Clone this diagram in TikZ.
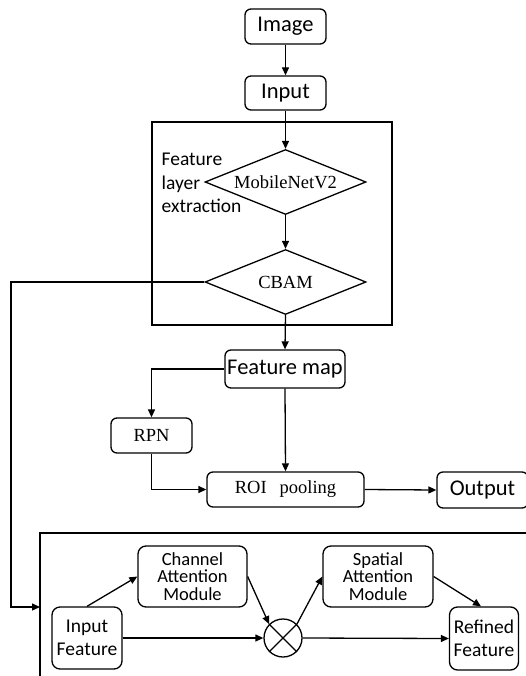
\documentclass[tikz,border=0pt]{standalone}
\usepackage{fontspec}
\setmainfont{Carlito}
\newfontfamily\tnrfont{Liberation Serif}
\usetikzlibrary{arrows.meta,shapes.geometric,calc}
\begin{document}
\begin{tikzpicture}[x=1pt,y=-1pt,
  line width=1.3pt,
  arr/.style={-{Triangle[length=8pt,width=7pt]}},
  rbox/.style={draw,rounded corners=6pt,inner sep=0pt,align=center},
  sansbig/.style={font=\fontsize{22.5}{24}\selectfont},
  sansmid/.style={font=\fontsize{19.5}{23.5}\selectfont},
  sanssm/.style={font=\fontsize{18.5}{17.5}\selectfont},
  serif/.style={font=\fontsize{18.5}{20}\selectfont\tnrfont},
  dia/.style={draw,diamond,aspect=2.5,inner sep=0pt,minimum width=161pt,minimum height=65pt}
]
\useasboundingbox (0,0) rectangle (526,676);
\clip (0,0) rectangle (526,676);
% top chain
\node[rbox,sansbig,minimum width=81pt,minimum height=35pt] (img) at (285.5,26.5) {Image};
\node[rbox,sansbig,minimum width=81pt,minimum height=34pt] (inp) at (285.5,93) {Input};
\node[draw,rectangle,inner sep=0pt,minimum width=240pt,minimum height=203pt] (frame) at (272,223.5) {};
\node[dia,serif] (mob) at (285.5,182) {MobileNetV2};
\node[dia,serif] (cbam) at (285.5,282) {CBAM};
\node[sansmid,align=left,anchor=west,inner sep=0pt] (fle) at (161,183) {Feature\\layer\\extraction};
\node[rbox,sansbig,minimum width=120pt,minimum height=38pt] (fmap) at (285,369) {Feature map};
\node[rbox,serif,minimum width=81pt,minimum height=35pt] (rpn) at (151.5,435.5) {RPN};
\node[rbox,serif,minimum width=157pt,minimum height=35pt] (roi) at (285.5,489.5) {ROI\hspace{0.7em}pooling};
\node[rbox,sansbig,minimum width=91pt,minimum height=36pt] (out) at (482.5,490) {Output};
\draw[arr] (img) -- (inp);
\draw[arr] (inp) -- (mob.north);
\draw[arr] (mob.south) -- (cbam.north);
\draw[arr] (cbam.south) -- (fmap.north);
\draw[arr] (fmap.west) -| (rpn.north);
\draw[arr] (rpn.south) |- (roi.west);
\draw[arr] (fmap.south) -- (roi.north);
\draw[arr] (roi.east) -- (out.west);
% bottom frame
\coordinate (bfl) at (40,607);
\draw (530,533) -- (40,533) -- (40,680);
\coordinate (lc1) at (11,282);
\coordinate (lc2) at (11,607);
\draw[arr] (cbam.west) -- (lc1) -- (lc2) -- (bfl);
% CBAM detail
\tikzset{mbox/.style={draw,rounded corners=8pt,inner sep=0pt,align=center}}
\node[mbox,sansmid,minimum width=70pt,minimum height=62pt] (inf) at (87,638) {Input\\Feature};
\node[mbox,sanssm,minimum width=109pt,minimum height=61pt] (cam) at (192.5,576.5) {Channel\\Attention\\Module};
\node[mbox,sanssm,minimum width=110pt,minimum height=61pt] (sam) at (378,576.5) {Spatial\\Attention\\Module};
\node[mbox,sansmid,minimum width=69pt,minimum height=63pt] (ref) at (484,638.5) {Refined\\Feature};
\node[draw,circle,inner sep=0pt,minimum size=38pt] (ot) at (283,638) {};
\draw (ot.45) -- (ot.225) (ot.135) -- (ot.315);
\draw[arr] (inf.north) -- (cam.west);
\draw[arr] (cam.east) -- (ot.135);
\draw[arr] (ot.45) -- (sam.west);
\draw[arr] (sam.east) -- ($(ref.north)+(-3,0)$);
\draw[arr] (inf.east) -- (ot.west);
\draw[arr] (ot.east) -- (ref.west);
\end{tikzpicture}
\end{document}
